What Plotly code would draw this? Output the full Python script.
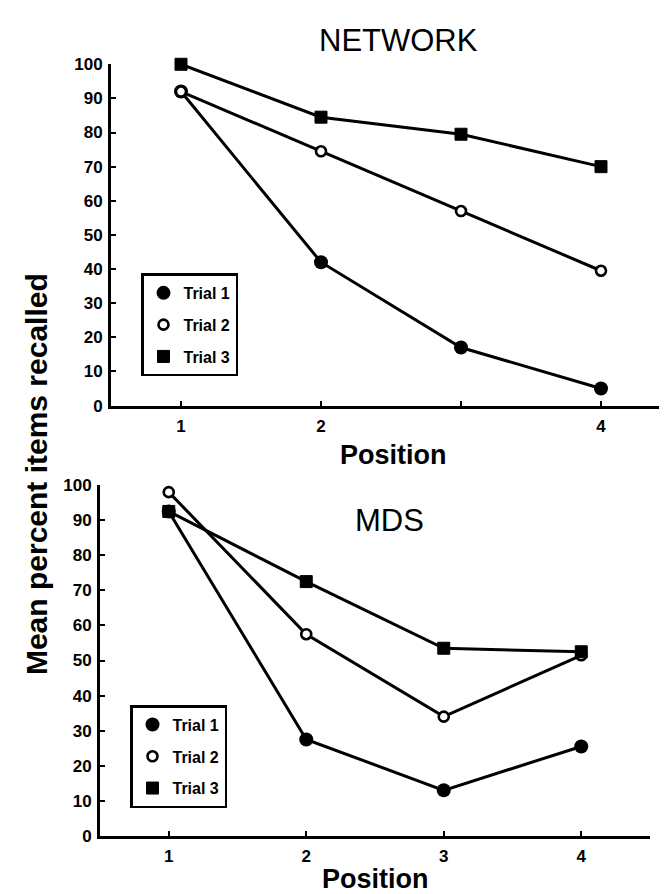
import plotly.graph_objects as go

# ---------------- data ----------------
positions = [1, 2, 3, 4]
top_tick_text = ["1", "2", "", "4"]
bottom_tick_text = ["1", "2", "3", "4"]
y_ticks = [0, 10, 20, 30, 40, 50, 60, 70, 80, 90, 100]

series_names = ["Trial 1", "Trial 2", "Trial 3"]

network_trial1 = [92, 42, 17, 5]
network_trial2 = [92, 74.5, 57, 39.5]
network_trial3 = [100, 84.5, 79.5, 70]

mds_trial1 = [92.5, 27.5, 13, 25.5]
mds_trial2 = [98, 57.5, 34, 51.5]
mds_trial3 = [92.5, 72.5, 53.5, 52.5]

panel_titles = ["NETWORK", "MDS"]
x_title = "Position"
y_title = "Mean percent items recalled"

# ---------------- styling ----------------
W, H = 667, 894
FONT = "Liberation Sans, Arial, Helvetica, sans-serif"
BLACK = "black"

marker_styles = [
    dict(symbol="circle", size=14, color=BLACK, line=dict(color=BLACK, width=0)),
    dict(symbol="circle", size=10, color="white", line=dict(color=BLACK, width=2.6)),
    dict(symbol="square", size=12, color=BLACK, line=dict(color=BLACK, width=1)),
]

fig = go.Figure()

panels = [
    ("x", "y", "legend", [network_trial1, network_trial2, network_trial3]),
    ("x2", "y2", "legend2", [mds_trial1, mds_trial2, mds_trial3]),
]

for xa, ya, leg, data in panels:
    # connecting lines
    for name, vals in zip(series_names, data):
        fig.add_trace(go.Scatter(
            x=positions, y=vals, mode="lines", xaxis=xa, yaxis=ya,
            line=dict(color=BLACK, width=3), showlegend=False,
            hoverinfo="skip", cliponaxis=False))
    # markers (legend entries)
    for i, (name, vals) in enumerate(zip(series_names, data)):
        fig.add_trace(go.Scatter(
            x=positions, y=vals, mode="markers", name=name, xaxis=xa, yaxis=ya,
            marker=marker_styles[i], legend=leg, legendgroup=leg + name,
            cliponaxis=False))

def px_x(v):
    return v / W

def px_y(v):
    return 1 - v / H

axis_common = dict(
    showline=True, linecolor=BLACK, linewidth=3,
    ticks="inside", ticklen=5, tickwidth=2, tickcolor=BLACK,
    showgrid=False, zeroline=False,
    tickfont=dict(family=FONT, size=17, color=BLACK, weight="bold"),
)

legend_common = dict(
    xanchor="left", yanchor="top",
    bgcolor="white", bordercolor=BLACK, borderwidth=2.5,
    font=dict(family=FONT, size=16, color=BLACK, weight="bold"),
    tracegroupgap=8, itemwidth=30,
)

fig.update_layout(
    width=W, height=H,
    margin=dict(l=0, r=0, t=0, b=0),
    paper_bgcolor="white", plot_bgcolor="white",
    xaxis=dict(domain=[px_x(103), px_x(663)], range=[0.5, 4.5],
               tickvals=positions, ticktext=top_tick_text, anchor="y",
               ticklabelstandoff=3, **axis_common),
    yaxis=dict(domain=[px_y(397), px_y(48.3)], range=[0, 100],
               tickvals=y_ticks, anchor="x", ticklabelstandoff=2, **axis_common),
    xaxis2=dict(domain=[px_x(92), px_x(642)], range=[0.5, 4.5],
                tickvals=positions, ticktext=bottom_tick_text, anchor="y2",
                ticklabelstandoff=3, **axis_common),
    yaxis2=dict(domain=[px_y(836.7), px_y(478.3)], range=[0, 100],
                tickvals=y_ticks, anchor="x2", ticklabelstandoff=2, **axis_common),
    legend=dict(x=px_x(133), y=px_y(262), **legend_common),
    legend2=dict(x=px_x(122), y=px_y(703), **legend_common),
    showlegend=True,
)

annotations = [
    dict(text=panel_titles[0], x=px_x(390), y=px_y(24.5),
         font=dict(family=FONT, size=31, color=BLACK)),
    dict(text=panel_titles[1], x=px_x(381), y=px_y(514),
         font=dict(family=FONT, size=31, color=BLACK)),
    dict(text=x_title, x=px_x(385), y=px_y(447),
         font=dict(family=FONT, size=27, color=BLACK, weight="bold")),
    dict(text=x_title, x=px_x(367), y=px_y(881),
         font=dict(family=FONT, size=27, color=BLACK, weight="bold")),
    dict(text=y_title, x=px_x(28), y=px_y(467), textangle=-90,
         font=dict(family=FONT, size=30, color=BLACK, weight="bold")),
]
for a in annotations:
    fig.add_annotation(xref="paper", yref="paper", showarrow=False,
                       xanchor="center", yanchor="middle", **a)

fig.write_html("out.html")
